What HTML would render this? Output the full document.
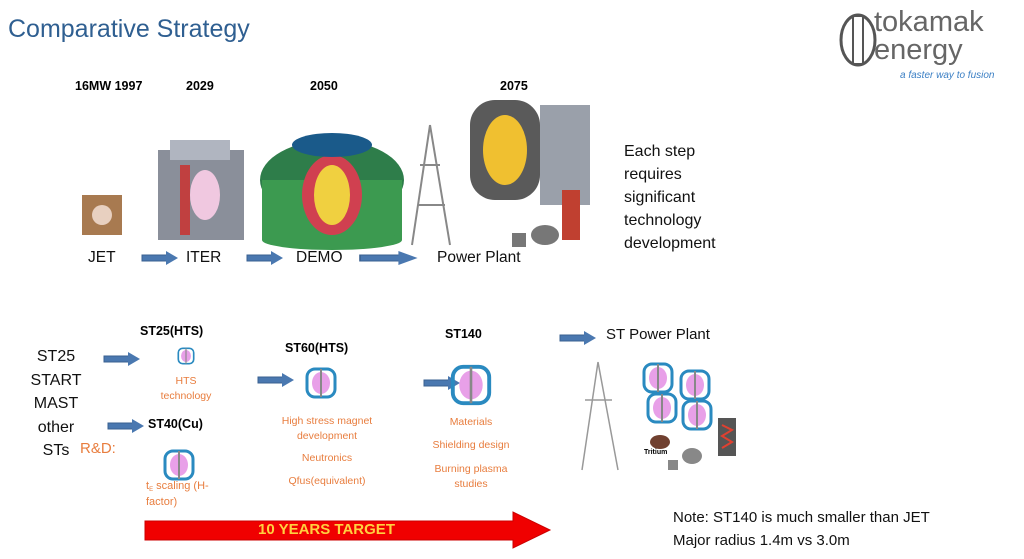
<!DOCTYPE html>
<html><head><meta charset="utf-8"><style>
body{margin:0;width:1024px;height:559px;background:#fff;position:relative;overflow:hidden;font-family:"Liberation Sans",sans-serif}
.t{position:absolute;white-space:nowrap}
.b{font-weight:bold;font-size:12.5px}
.o{color:#e87d3e;font-size:10.5px;text-align:center}
.k{font-size:15.5px;color:#111}
</style></head><body>
<div class="t" style="left:8px;top:15px;font-size:25px;color:#2f5f91">Comparative Strategy</div>
<svg class="t" style="left:836px;top:10px" width="50" height="62"><ellipse cx="22" cy="30" rx="17" ry="25" fill="none" stroke="#555" stroke-width="3"/><rect x="17" y="6" width="10" height="48" fill="none" stroke="#555" stroke-width="2"/></svg>
<div class="t" style="left:874px;top:8px;font-size:29px;color:#666;line-height:28px">tokamak<br>energy</div>
<div class="t" style="left:900px;top:70px;font-size:10px;color:#3b7fc4;font-style:italic">a faster way to fusion</div>

<div class="t b" style="left:75px;top:79px">16MW 1997</div>
<div class="t b" style="left:186px;top:79px">2029</div>
<div class="t b" style="left:310px;top:79px">2050</div>
<div class="t b" style="left:500px;top:79px">2075</div>

<svg class="t" style="left:0;top:85px" width="620" height="175">
<rect x="82" y="110" width="40" height="40" fill="#a87a50"/><circle cx="102" cy="130" r="10" fill="#e8d0c0"/>
<rect x="158" y="65" width="86" height="90" fill="#8a8f9a"/><rect x="170" y="55" width="60" height="20" fill="#b0b5c0"/><ellipse cx="205" cy="110" rx="15" ry="25" fill="#f0c8e0"/><rect x="180" y="80" width="10" height="70" fill="#c04040"/>
<ellipse cx="332" cy="95" rx="72" ry="40" fill="#2e7d4a"/><rect x="262" y="95" width="140" height="60" fill="#3c9a50"/><ellipse cx="332" cy="155" rx="70" ry="10" fill="#3c9a50"/><ellipse cx="332" cy="110" rx="30" ry="40" fill="#d04050"/><ellipse cx="332" cy="110" rx="18" ry="30" fill="#f0d040"/><ellipse cx="332" cy="60" rx="40" ry="12" fill="#1a5a8a"/>
<path d="M430 40 L412 160 M430 40 L450 160 M418 120 L445 120 M420 80 L440 80" stroke="#888" stroke-width="2" fill="none"/>
<rect x="470" y="15" width="70" height="100" rx="25" fill="#5a5a5a"/><ellipse cx="505" cy="65" rx="22" ry="35" fill="#f0c030"/><rect x="540" y="20" width="50" height="100" fill="#9aa0aa"/><rect x="562" y="105" width="18" height="50" fill="#c04030"/><ellipse cx="545" cy="150" rx="14" ry="10" fill="#777"/><rect x="512" y="148" width="14" height="14" fill="#777"/>
</svg>
<div class="t k" style="left:88px;top:249px">JET</div>
<div class="t k" style="left:186px;top:249px">ITER</div>
<div class="t k" style="left:296px;top:249px">DEMO</div>
<div class="t k" style="left:437px;top:249px">Power Plant</div>

<svg class="t" style="left:0;top:0" width="1024" height="559">
<defs><g id="ar"><rect x="0" y="-3" width="26" height="6" fill="#4a78b0" stroke="#3a6090"/><polygon points="24,-7 36,0 24,7" fill="#4a78b0"/></g>
<g id="st"><rect x="-14" y="-14" width="28" height="28" rx="8" fill="none" stroke="#2a8ac0" stroke-width="3"/><ellipse cx="0" cy="0" rx="9" ry="11" fill="#e8a0e8"/><rect x="-1" y="-14" width="2" height="28" fill="#888"/></g></defs>
<use href="#ar" x="142" y="258"/><use href="#ar" x="247" y="258"/><g transform="translate(360 258) scale(1.6 1)"><use href="#ar"/></g>
<use href="#ar" x="104" y="359"/><use href="#ar" x="108" y="426"/><use href="#ar" x="258" y="380"/><use href="#ar" x="424" y="383"/><use href="#ar" x="560" y="338"/>
<g transform="translate(186 356) scale(0.55)"><use href="#st"/></g>
<use href="#st" x="179" y="465"/><use href="#st" x="321" y="383"/>
<g transform="translate(471 385) scale(1.3)"><use href="#st"/></g>
<path d="M598 362 L582 470 M598 362 L618 470 M585 400 L612 400" stroke="#999" stroke-width="1.5" fill="none"/>
<use href="#st" x="658" y="378"/><use href="#st" x="695" y="385"/><use href="#st" x="662" y="408"/><use href="#st" x="697" y="415"/>
<rect x="718" y="418" width="18" height="38" fill="#555"/><path d="M722 425 L732 430 L722 436 L732 442 L722 448" stroke="#e04030" fill="none" stroke-width="2"/>
<ellipse cx="660" cy="442" rx="10" ry="7" fill="#704030"/><ellipse cx="692" cy="456" rx="10" ry="8" fill="#888"/><rect x="668" y="460" width="10" height="10" fill="#888"/>
<polygon points="145,521 513,521 513,512 550,530 513,548 513,540 145,540" fill="#f00000" stroke="#c00" />
</svg>
<div class="t" style="left:644px;top:449px;font-size:7px;font-weight:bold">Tritium</div>
<div class="t" style="left:258px;top:521px;font-size:15px;font-weight:bold;color:#ffd040">10 YEARS TARGET</div>

<div class="t" style="left:624px;top:140px;font-size:16px;line-height:23px;color:#111">Each step<br>requires<br>significant<br>technology<br>development</div>
<div class="t" style="left:30px;top:345px;font-size:16px;line-height:23.5px;color:#111;text-align:center;width:52px">ST25<br>START<br>MAST<br>other<br>STs</div>
<div class="t" style="left:80px;top:440px;font-size:15px;color:#e87d3e">R&amp;D:</div>

<div class="t b" style="left:140px;top:324px">ST25(HTS)</div>
<div class="t o" style="left:160px;top:374px;width:52px;line-height:15px">HTS<br>technology</div>
<div class="t b" style="left:148px;top:417px">ST40(Cu)</div>
<div class="t o" style="left:146px;top:480px;text-align:left;font-size:11px">t<span style="font-size:6px;vertical-align:-2px">E</span> scaling (H-</div>
<div class="t o" style="left:146px;top:496px;text-align:left;font-size:11px">factor)</div>
<div class="t b" style="left:285px;top:341px">ST60(HTS)</div>
<div class="t o" style="left:272px;top:414px;width:110px;line-height:15px">High stress magnet<br>development</div>
<div class="t o" style="left:272px;top:452px;width:110px">Neutronics</div>
<div class="t o" style="left:272px;top:475px;width:110px">Qfus(equivalent)</div>
<div class="t b" style="left:445px;top:327px">ST140</div>
<div class="t o" style="left:420px;top:416px;width:102px">Materials</div>
<div class="t o" style="left:420px;top:439px;width:102px">Shielding design</div>
<div class="t o" style="left:420px;top:462px;width:102px;line-height:15px">Burning plasma<br>studies</div>
<div class="t" style="left:606px;top:326px;font-size:15px;color:#111">ST Power Plant</div>
<div class="t" style="left:673px;top:506px;font-size:15px;line-height:23px;color:#111">Note: ST140 is much smaller than JET<br>Major radius 1.4m vs 3.0m</div>
</body></html>
